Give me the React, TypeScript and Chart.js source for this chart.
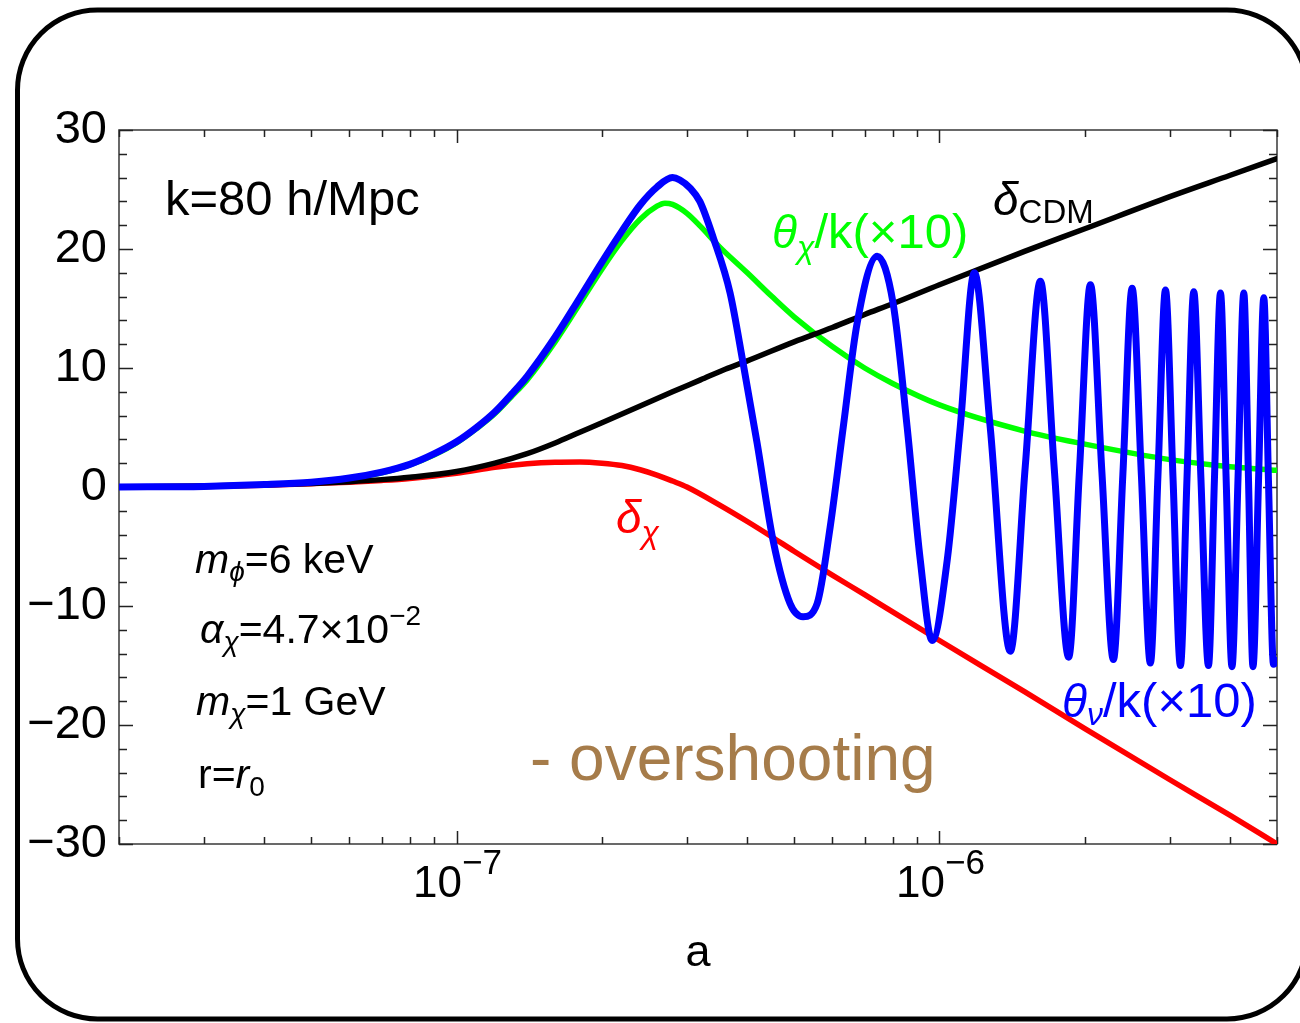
import React, { useEffect, useRef } from 'react';
import { Chart, registerables } from 'chart.js';

Chart.register(...registerables);

const FONT = '"Liberation Sans", Arial, Helvetica, sans-serif';

// ---- data (a = scale factor) ----
const cdmA = [2e-8, 3e-8, 4e-8, 5e-8, 6e-8, 7e-8, 8e-8, 1e-7, 1.2e-7, 1.4e-7, 1.6e-7, 1.8e-7, 2e-7, 2.4e-7, 2.8e-7, 3.2e-7, 3.6e-7, 4e-7, 5e-7, 6e-7, 7e-7, 8e-7, 1e-6, 1.5e-6, 2e-6, 3e-6, 4e-6, 5e-6];
const cdmV = [0, 0.08, 0.18, 0.3, 0.45, 0.62, 0.82, 1.3, 2.0, 2.8, 3.7, 4.6, 5.4, 6.8, 8.0, 9.0, 9.9, 10.6, 12.2, 13.4, 14.5, 15.4, 17.0, 19.8, 21.7, 24.4, 26.2, 27.6];

const chiA = [2e-8, 3e-8, 4e-8, 5e-8, 6e-8, 7e-8, 8e-8, 1e-7, 1.2e-7, 1.4e-7, 1.6e-7, 1.8e-7, 2e-7, 2.2e-7, 2.4e-7, 2.6e-7, 2.8e-7, 3e-7, 3.5e-7, 4e-7, 4.5e-7, 5e-7, 6e-7, 7e-7, 8e-7, 1e-6, 1.5e-6, 2e-6, 3e-6, 4e-6, 5e-6];
const chiV = [0, 0.05, 0.15, 0.28, 0.4, 0.55, 0.72, 1.15, 1.65, 1.95, 2.08, 2.1, 2.0, 1.8, 1.45, 1.0, 0.5, 0.0, -1.5, -2.9, -4.2, -5.4, -7.4, -9.05, -10.5, -12.9, -17.2, -20.3, -24.6, -27.6, -30.0];

const thetaChiA = [2e-8, 3e-8, 4e-8, 5e-8, 6e-8, 7e-8, 8e-8, 9e-8, 1e-7, 1.1e-7, 1.2e-7, 1.3e-7, 1.4e-7, 1.6e-7, 1.8e-7, 2e-7, 2.2e-7, 2.4e-7, 2.6e-7, 2.7e-7, 2.8e-7, 3e-7, 3.2e-7, 3.5e-7, 4e-7, 4.5e-7, 5e-7, 6e-7, 7e-7, 8e-7, 1e-6, 1.5e-6, 2e-6, 3e-6, 4e-6, 5e-6];
const thetaChiV = [0, 0.05, 0.18, 0.38, 0.72, 1.2, 1.85, 2.7, 3.7, 4.9, 6.15, 7.6, 9.0, 12.2, 15.4, 18.3, 20.7, 22.5, 23.6, 23.85, 23.75, 23.0, 21.9, 20.2, 18.0, 16.0, 14.3, 11.8, 10.0, 8.7, 6.9, 4.7, 3.6, 2.3, 1.7, 1.4];

const thetaNuA = [
  2e-8, 3e-8, 4e-8, 5e-8, 6e-8, 7e-8, 8e-8, 9e-8, 1e-7, 1.1e-7, 1.2e-7, 1.3e-7, 1.4e-7, 1.6e-7, 1.8e-7, 2e-7, 2.2e-7, 2.4e-7, 2.6e-7, 2.8e-7, 2.9e-7, 3.05e-7,
  3.19e-7, 3.398e-7, 3.685e-7, 3.921e-7, 4.191e-7, 4.524e-7, 4.906e-7, 5.219e-7, 5.581e-7, 5.937e-7, 6.319e-7, 6.755e-7,
  7.431e-7, 8.02e-7, 8.574e-7, 9.124e-7, 9.66e-7, 1.038e-6, 1.104e-6, 1.181e-6, 1.274e-6, 1.402e-6,
  1.506e-6, 1.618e-6, 1.729e-6, 1.852e-6, 1.949e-6, 2.054e-6, 2.17e-6, 2.292e-6, 2.398e-6, 2.506e-6,
  2.619e-6, 2.734e-6, 2.834e-6, 2.938e-6, 3.045e-6, 3.155e-6, 3.255e-6, 3.362e-6, 3.479e-6, 3.606e-6,
  3.71e-6, 3.819e-6, 3.924e-6, 4.034e-6, 4.151e-6, 4.268e-6, 4.365e-6, 4.459e-6, 4.578e-6, 4.695e-6,
  4.801e-6, 4.917e-6, 5e-6,
];
const thetaNuV = [
  0, 0.05, 0.2, 0.4, 0.75, 1.25, 1.9, 2.8, 3.8, 5.0, 6.3, 7.8, 9.3, 12.6, 15.9, 18.9, 21.5, 23.7, 25.2, 26.0, 25.8, 25.1,
  24.0, 21.0, 16.3, 10.4, 3.7, -4.5, -9.8, -10.9, -9.8, -3.4, 5.0, 13.8,
  19.4, 15.4, 5.0, -6.1, -12.9, -6.1, 5.0, 18.0, 5.0, -13.8,
  1.8, 17.3, 1.5, -14.3, 1.3, 17.0, 1.2, -14.5, 1.1, 16.7,
  1.0, -14.8, 0.9, 16.55, 0.8, -15.0, 0.7, 16.4, 0.7, -15.0,
  0.6, 16.3, 0.6, -15.1, 0.6, 16.3, 0.6, -15.1, 0.5, 15.9,
  0.5, -14.9, -14.6,
];

// ---- axes ----
const xMin = 2e-8;
const xMax = 5e-6;
const yMin = -30;
const yMax = 30;
const yMajorStep = 10;
const yMinorStep = 2;
const xLabelValues = [1e-7, 1e-6];
const xLabelExps = ['\u22127', '\u22126'];
const xDecades = [-8, -7, -6];

const pts = (xs: number[], ys: number[]) => xs.map((x, i) => ({ x, y: ys[i] }));

type Seg = { t: string; size: number; italic?: boolean; dy?: number };

function drawSegs(ctx: CanvasRenderingContext2D, x: number, y: number, segs: Seg[], color: string, sx = 1) {
  ctx.save();
  ctx.translate(x, y);
  ctx.scale(sx, 1);
  ctx.fillStyle = color;
  ctx.textBaseline = 'alphabetic';
  ctx.textAlign = 'left';
  let cx = 0;
  for (const s of segs) {
    ctx.font = `${s.italic ? 'italic ' : ''}${s.size}px ${FONT}`;
    ctx.fillText(s.t, cx, s.dy ?? 0);
    cx += ctx.measureText(s.t).width;
  }
  ctx.restore();
}

function segsWidth(ctx: CanvasRenderingContext2D, segs: Seg[]) {
  let w = 0;
  for (const s of segs) {
    ctx.font = `${s.italic ? 'italic ' : ''}${s.size}px ${FONT}`;
    w += ctx.measureText(s.t).width;
  }
  return w;
}

const framePlugin = {
  id: 'mathematicaFrame',
  beforeDatasetsDraw(chart: any) {
    const { ctx, chartArea } = chart;
    const xs = chart.scales.x;
    const ys = chart.scales.y;
    const { left, right, top, bottom } = chartArea;
    ctx.save();
    ctx.strokeStyle = '#444';
    ctx.lineWidth = 1.6;
    ctx.strokeRect(left, top, right - left, bottom - top);
    ctx.strokeStyle = '#222';
    ctx.lineWidth = 1.5;
    for (let v = yMin; v <= yMax; v += yMinorStep) {
      const y = Math.round(ys.getPixelForValue(v)) + 0.5;
      const len = v % yMajorStep === 0 ? 14 : 8;
      ctx.beginPath();
      ctx.moveTo(left, y);
      ctx.lineTo(left + len, y);
      ctx.moveTo(right, y);
      ctx.lineTo(right - len, y);
      ctx.stroke();
    }
    for (const d of xDecades) {
      for (let m = 1; m <= 9; m++) {
        const a = m * Math.pow(10, d);
        if (a < xMin * 0.999 || a > xMax * 1.001) continue;
        const x = Math.round(xs.getPixelForValue(a)) + 0.5;
        const len = m === 1 ? 13 : 7;
        ctx.beginPath();
        ctx.moveTo(x, bottom);
        ctx.lineTo(x, bottom - len);
        ctx.moveTo(x, top);
        ctx.lineTo(x, top + len);
        ctx.stroke();
      }
    }
    xLabelValues.forEach((v, i) => {
      const x = xs.getPixelForValue(v);
      const segs: Seg[] = [
        { t: '10', size: 44 },
        { t: xLabelExps[i], size: 35, dy: -23 },
      ];
      const w = segsWidth(ctx, segs);
      drawSegs(ctx, x - w / 2 + 1, 897, segs, '#000');
    });
    ctx.restore();
  },
  afterDatasetsDraw(chart: any) {
    const { ctx } = chart;
    ctx.save();
    drawSegs(ctx, 165, 215, [{ t: 'k=80 h/Mpc', size: 49 }], '#000');
    drawSegs(ctx, 993, 215, [
      { t: '\u03b4', size: 46, italic: true },
      { t: 'CDM', size: 33, dy: 8 },
    ], '#000');
    drawSegs(ctx, 772, 248, [
      { t: '\u03b8', size: 46, italic: true },
      { t: '\u03c7', size: 32, italic: true, dy: 10 },
      { t: '/k(\u00d710)', size: 49 },
    ], '#00ff00');
    drawSegs(ctx, 616, 533, [
      { t: '\u03b4', size: 46, italic: true },
      { t: '\u03c7', size: 32, italic: true, dy: 10 },
    ], '#ff0000');
    drawSegs(ctx, 1062, 717, [
      { t: '\u03b8', size: 46, italic: true },
      { t: '\u03bd', size: 32, italic: true, dy: 8 },
      { t: '/k(\u00d710)', size: 49 },
    ], '#0000ff');
    drawSegs(ctx, 530, 780, [{ t: '- overshooting', size: 64 }], '#A67C4A');
    drawSegs(ctx, 195, 573, [
      { t: 'm', size: 41, italic: true },
      { t: '\u03d5', size: 28, italic: true, dy: 8 },
      { t: '=6 keV', size: 41 },
    ], '#000');
    drawSegs(ctx, 200, 643, [
      { t: '\u03b1', size: 41, italic: true },
      { t: '\u03c7', size: 28, italic: true, dy: 8 },
      { t: '=4.7\u00d710', size: 41 },
      { t: '\u22122', size: 28, dy: -18 },
    ], '#000');
    drawSegs(ctx, 196, 715, [
      { t: 'm', size: 41, italic: true },
      { t: '\u03c7', size: 28, italic: true, dy: 8 },
      { t: '=1 GeV', size: 41 },
    ], '#000');
    drawSegs(ctx, 198, 788, [
      { t: 'r=', size: 41 },
      { t: 'r', size: 41, italic: true },
      { t: '0', size: 28, dy: 8 },
    ], '#000');
    ctx.restore();
  },
  afterDraw(chart: any) {
    const { ctx } = chart;
    const l = 17.5, t = 10, r = 1307, b = 1019, rad = 80;
    ctx.save();
    ctx.strokeStyle = '#000';
    ctx.lineWidth = 5;
    ctx.beginPath();
    ctx.moveTo(l + rad, t);
    ctx.lineTo(r - rad, t);
    ctx.arcTo(r, t, r, t + rad, rad);
    ctx.lineTo(r, b - rad);
    ctx.arcTo(r, b, r - rad, b, rad);
    ctx.lineTo(l + rad, b);
    ctx.arcTo(l, b, l, b - rad, rad);
    ctx.lineTo(l, t + rad);
    ctx.arcTo(l, t, l + rad, t, rad);
    ctx.closePath();
    ctx.stroke();
    ctx.restore();
  },
};

export default function App() {
  const canvasRef = useRef<HTMLCanvasElement | null>(null);

  useEffect(() => {
    const canvas = canvasRef.current;
    if (!canvas) return;
    const common = { pointRadius: 0, fill: false, cubicInterpolationMode: 'monotone' as const, borderJoinStyle: 'round' as const, borderCapStyle: 'round' as const };
    const chart = new Chart(canvas, {
      type: 'line',
      data: {
        datasets: [
          { label: '\u03b8\u03bd/k(\u00d710)', data: pts(thetaNuA, thetaNuV), borderColor: '#0000ff', borderWidth: 7, ...common },
          { label: '\u03b4CDM', data: pts(cdmA, cdmV), borderColor: '#000000', borderWidth: 5.5, ...common },
          { label: '\u03b4\u03c7', data: pts(chiA, chiV), borderColor: '#ff0000', borderWidth: 5.5, ...common },
          { label: '\u03b8\u03c7/k(\u00d710)', data: pts(thetaChiA, thetaChiV), borderColor: '#00ff00', borderWidth: 5.5, ...common },
        ],
      },
      options: {
        animation: false,
        responsive: false,
        maintainAspectRatio: false,
        events: [],
        layout: { padding: { left: 0, top: 130, right: 23, bottom: 42 } },
        plugins: { legend: { display: false }, tooltip: { enabled: false } },
        scales: {
          x: {
            type: 'logarithmic',
            min: xMin,
            max: xMax,
            ticks: { display: false },
            grid: { display: false, drawTicks: false },
            border: { display: false },
            title: { display: true, text: 'a', color: '#000', font: { family: FONT, size: 45 }, padding: 0 },
            afterFit: (s: any) => { s.height = 137; },
          },
          y: {
            type: 'linear',
            min: yMin,
            max: yMax,
            ticks: {
              stepSize: yMajorStep,
              color: '#000',
              padding: 12,
              font: { family: FONT, size: 47 },
              callback: (v: any) => (Number(v) < 0 ? '\u2212' + Math.abs(Number(v)) : String(v)),
            },
            grid: { display: false, drawTicks: false },
            border: { display: false },
            afterFit: (s: any) => { s.width = 119; },
          },
        },
      },
      plugins: [framePlugin],
    } as any);
    return () => chart.destroy();
  }, []);

  return (
    <div style={{ position: 'absolute', left: 0, top: 0, width: 1300, height: 1023, background: '#fff' }}>
      <canvas ref={canvasRef} width={1300} height={1023} style={{ display: 'block' }} />
    </div>
  );
}
